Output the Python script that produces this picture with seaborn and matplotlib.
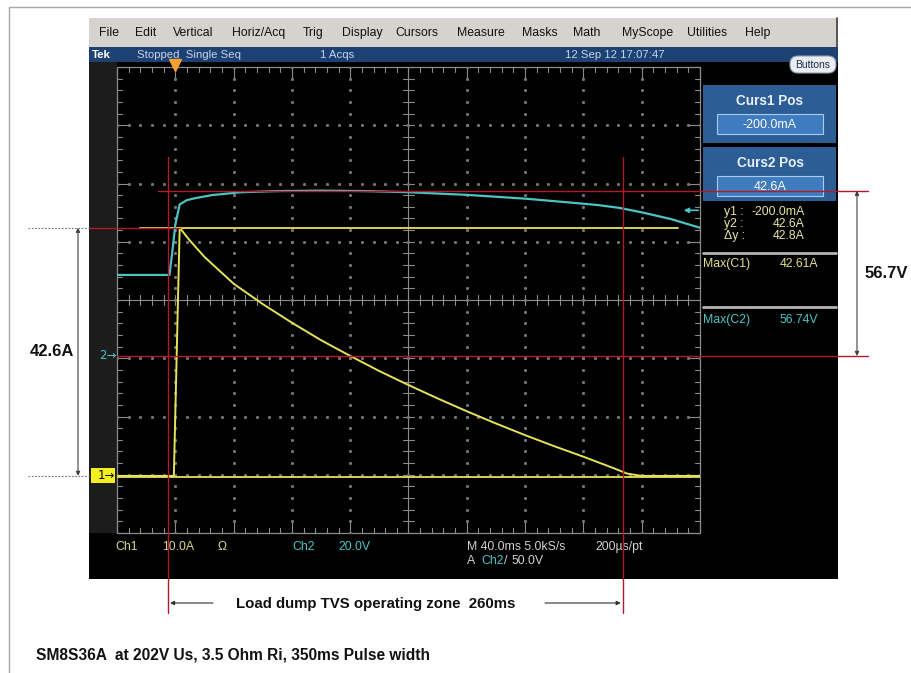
import numpy as np
import matplotlib
matplotlib.use("Agg")
import matplotlib.pyplot as plt
import seaborn as sns
from matplotlib import font_manager
from matplotlib.patches import Rectangle, FancyBboxPatch
from matplotlib.transforms import blended_transform_factory as blend

# ---------------- acquired waveforms ----------------
# Ch1: TVS current (A) vs time after trigger (ms)
t_ch1 = [-40, -1, 3, 10, 20, 40, 60, 80, 100, 120, 140, 160, 180, 200, 220,
         240, 260, 280, 300, 310, 320, 360]
i_ch1 = [0.0, 0.0, 42.6, 40.4, 37.6, 33.0, 29.5, 26.3, 23.3, 20.6, 18.0, 15.6,
         13.3, 11.1, 9.0, 7.0, 5.1, 3.3, 1.4, 0.4, 0.0, 0.0]

# Ch2: clamped voltage (V) vs time after trigger (ms)
t_ch2 = [-40, -4, -2, 0, 3, 8, 14, 25, 45, 70, 100, 130, 160, 200, 240,
         270, 290, 305, 320, 340, 360]
v_ch2 = [27.8, 27.8, 36.0, 45.0, 52.0, 53.5, 54.2, 55.2, 56.2, 56.6, 56.74,
         56.6, 56.2, 55.3, 54.0, 52.7, 51.8, 50.8, 49.3, 47.0, 44.0]

# ---------------- scope settings / readouts ----------------
ch1_scale = 10.0      # A/div
ch2_scale = 20.0      # V/div
time_scale = 40.0     # ms/div
trig_pos_div = 1.0    # trigger point, divisions from left edge
ch1_pos_div = -3.02   # Ch1 ground marker, divisions from centre
ch2_pos_div = -0.96   # Ch2 ground marker
trig_level = 50.0     # V on Ch2
curs1 = -0.2          # A
curs2 = 42.6          # A
max_c1 = 42.61
max_c2 = 56.74
v_clamp = 56.7
zone_start, zone_end = -5.0, 307.0   # ms

menu_items = ["File", "Edit", "Vertical", "Horiz/Acq", "Trig", "Display",
              "Cursors", "Measure", "Masks", "Math", "MyScope", "Utilities",
              "Help"]
menu_x = [99, 135, 173, 232, 303, 342, 395, 457, 522, 573, 622, 687, 745]

title_text = "SM8S36A  at 202V Us, 3.5 Ohm Ri, 350ms Pulse width"
zone_text = "Load dump TVS operating zone  260ms"

# ---------------- styling ----------------
sns.set_theme(style="white")
names = {f.name for f in font_manager.fontManager.ttflist}
NARROW = "Liberation Sans Narrow" if "Liberation Sans Narrow" in names else "Liberation Sans"
plt.rcParams["font.family"] = ["Liberation Sans", "DejaVu Sans"]

YEL = "#e6e25a"
CYAN = "#4cc4c4"
RED = "#b4182a"
W, H = 912, 673

fig = plt.figure(figsize=(W / 100, H / 100), dpi=100)
fig.patch.set_facecolor("white")

bg = fig.add_axes([0, 0, 1, 1])
bg.set_xlim(0, W)
bg.set_ylim(H, 0)
bg.axis("off")
bg.set_zorder(0)


def box(ax, x0, y0, x1, y1, fc, ec="none", lw=0.0, z=1):
    ax.add_patch(Rectangle((x0, y0), x1 - x0, y1 - y0, fc=fc, ec=ec, lw=lw, zorder=z))


# page frame
bg.plot([9, 9], [7, H], color="#a8a8a8", lw=1.0)
bg.plot([9, W], [7, 7], color="#a8a8a8", lw=1.0)

# instrument window
box(bg, 89, 18, 838, 579, "black")
box(bg, 89, 18, 838, 47, "#d6d3ce")
box(bg, 89, 47, 838, 62, "#1d4173")
box(bg, 89, 62, 117, 533, "#1c1c1c")
bg.plot([837, 837], [18, 47], color="#404040", lw=1.2, zorder=2)

for lab, x in zip(menu_items, menu_x):
    bg.text(x, 33, lab, fontsize=8.8, va="center", ha="left", color="#101010",
            family="Liberation Sans", zorder=3)

bg.text(92, 55, "Tek", fontsize=8.2, va="center", color="white", weight="bold", zorder=3)
bg.text(137, 55, "Stopped  Single Seq", fontsize=8.2, va="center", color="#c3d5ee", zorder=3)
bg.text(320, 55, "1 Acqs", fontsize=8.2, va="center", color="#c3d5ee", zorder=3)
bg.text(565, 55, "12 Sep 12 17:07:47", fontsize=8.2, va="center", color="#c3d5ee", zorder=3)

bg.add_patch(FancyBboxPatch((790, 56), 46, 17, boxstyle="round,pad=0,rounding_size=8",
                            fc="#e9edf2", ec="#8fa0b8", lw=0.8, zorder=3))
bg.text(813, 64.5, "Buttons", fontsize=7.5, ha="center", va="center", color="#1c2c48", zorder=4)

# cursor readout panels
PANEL = "#2c5d94"
INNER = "#3f7cbf"
for (y0, y1, ttl, val) in [(85, 143, "Curs1 Pos", f"{curs1 * 1000:.1f}mA"),
                           (147, 201, "Curs2 Pos", f"{curs2:.1f}A")]:
    box(bg, 703, y0, 836, y1, PANEL, z=2)
    bg.text(770, y0 + 16, ttl, fontsize=9.8, weight="bold", ha="center", va="center",
            color="#e8f0ff", zorder=4)
    box(bg, 717, y0 + 29, 823, y0 + 49, INNER, ec="#a8cdf0", lw=0.8, z=3)
    bg.text(770, y0 + 39.5, val, fontsize=9, ha="center", va="center",
            color="white", family=NARROW, zorder=4)

RY = "#e6e6a6"
rows = [("y1 :", f"{curs1 * 1000:.1f}mA"), ("y2 :", f"{curs2:.1f}A"),
        ("\u0394y :", f"{curs2 - curs1:.1f}A")]
for k, (lab, val) in enumerate(rows):
    yy = 212 + 12 * k
    bg.text(724, yy, lab, fontsize=8.8, color=RY, va="center", family=NARROW, zorder=4)
    bg.text(805, yy, val, fontsize=8.8, color=RY, va="center", ha="right", family=NARROW, zorder=4)

bg.plot([703, 836], [253, 253], color="#b4b4b4", lw=2.0, zorder=3)
bg.text(703, 264, "Max(C1)", fontsize=8.8, color="#e2e290", va="center", family=NARROW, zorder=4)
bg.text(818, 264, f"{max_c1:.2f}A", fontsize=8.8, color="#e2e290", va="center", ha="right",
        family=NARROW, zorder=4)
bg.plot([703, 836], [307, 307], color="#b4b4b4", lw=2.0, zorder=3)
bg.text(703, 320, "Max(C2)", fontsize=8.8, color=CYAN, va="center", family=NARROW, zorder=4)
bg.text(818, 320, f"{max_c2:.2f}V", fontsize=8.8, color=CYAN, va="center", ha="right",
        family=NARROW, zorder=4)

# bottom settings bar
BY = "#d8d890"
GR = "#d2d2d2"
r1, r2 = 547, 561
FS = 8.8
bg.text(115, r1, "Ch1", fontsize=FS, color=BY, va="center", family=NARROW, zorder=4)
bg.text(162, r1, f"{ch1_scale:.1f}A", fontsize=FS, color=BY, va="center", family=NARROW, zorder=4)
bg.text(218, r1, "\u03a9", fontsize=FS, color=BY, va="center", family=NARROW, zorder=4)
bg.text(292, r1, "Ch2", fontsize=FS, color=CYAN, va="center", family=NARROW, zorder=4)
bg.text(338, r1, f"{ch2_scale:.1f}V", fontsize=FS, color=CYAN, va="center", family=NARROW, zorder=4)
bg.text(467, r1, f"M {time_scale:.1f}ms 5.0kS/s", fontsize=FS, color=GR, va="center",
        family=NARROW, zorder=4)
bg.text(595, r1, "200\u00b5s/pt", fontsize=FS, color=GR, va="center", family=NARROW, zorder=4)
bg.text(467, r2, "A", fontsize=FS, color=GR, va="center", family=NARROW, zorder=4)
bg.text(481, r2, "Ch2", fontsize=FS, color=CYAN, va="center", family=NARROW, zorder=4)
bg.text(504, r2, "/", fontsize=FS, color=GR, va="center", family=NARROW, zorder=4)
bg.text(512, r2, f"{trig_level:.1f}V", fontsize=FS, color=GR, va="center", family=NARROW, zorder=4)

# ---------------- graticule ----------------
gx0, gx1, gy0, gy1 = 117, 700, 67, 533
pos = [gx0 / W, (H - gy1) / H, (gx1 - gx0) / W, (gy1 - gy0) / H]
grat = fig.add_axes(pos)
grat.set_xlim(0, 10)
grat.set_ylim(-4, 4)
grat.axis("off")
grat.set_zorder(1)
grat.patch.set_alpha(0)

GC = "#8c8c8c"
grat.add_patch(Rectangle((0, -4), 10, 8, fill=False, ec=GC, lw=0.9, clip_on=False))
sub = np.round(np.arange(0, 10.001, 0.2), 3)
suby = np.round(np.arange(-4, 4.001, 0.2), 3)
for x in sub:
    L = 0.2 if abs(x - round(x)) < 1e-6 else 0.09
    grat.plot([x, x], [4, 4 - L], color=GC, lw=0.8, clip_on=False)
    grat.plot([x, x], [-4, -4 + L], color=GC, lw=0.8, clip_on=False)
    grat.plot([x, x], [-0.09, 0.09], color=GC, lw=0.8)
for y in suby:
    L = 0.2 if abs(y - round(y)) < 1e-6 else 0.09
    grat.plot([0, L], [y, y], color=GC, lw=0.8, clip_on=False)
    grat.plot([10, 10 - L], [y, y], color=GC, lw=0.8, clip_on=False)
    grat.plot([4.91, 5.09], [y, y], color=GC, lw=0.8)
grat.plot([5, 5], [-4, 4], color=GC, lw=0.8)
grat.plot([0, 10], [0, 0], color=GC, lw=0.8)
for x in range(1, 10):
    if x != 5:
        grat.plot(np.full(suby.size, x), suby, ls="none", marker="s", ms=1.1, color="#767676")
for y in range(-3, 4):
    if y != 0:
        grat.plot(sub, np.full(sub.size, y), ls="none", marker="s", ms=1.1, color="#767676")

# ---------------- traces ----------------
ax1 = fig.add_axes(pos)
ax1.set_zorder(2)
ax1.patch.set_alpha(0)
t_left = -trig_pos_div * time_scale
ax1.set_xlim(t_left, t_left + 10 * time_scale)
ax1.set_ylim((-4 - ch1_pos_div) * ch1_scale, (4 - ch1_pos_div) * ch1_scale)
ax2 = ax1.twinx()
ax2.set_zorder(3)
ax2.patch.set_alpha(0)
ax2.set_ylim((-4 - ch2_pos_div) * ch2_scale, (4 - ch2_pos_div) * ch2_scale)

ax1.axhline(curs1, color=YEL, lw=1.3)
ax1.axhline(curs2, xmin=0.04, xmax=0.962, color=YEL, lw=1.3)
sns.lineplot(x=t_ch1, y=i_ch1, ax=ax1, color=YEL, lw=1.4, estimator=None, sort=False)
sns.lineplot(x=t_ch2, y=v_ch2, ax=ax2, color=CYAN, lw=1.6, estimator=None, sort=False)
for a in (ax1, ax2):
    a.axis("off")

# trigger position and trigger level markers
ax1.plot([0], [1.005], transform=blend(ax1.transData, ax1.transAxes), marker="v",
         color="#f5a030", ms=8, clip_on=False)
ax2.annotate("", xy=(0.972, trig_level), xytext=(0.997, trig_level),
             xycoords=blend(ax2.transAxes, ax2.transData),
             textcoords=blend(ax2.transAxes, ax2.transData),
             arrowprops=dict(arrowstyle="-|>", color=CYAN, lw=1.2, mutation_scale=7,
                             shrinkA=0, shrinkB=0))


def py(ax, v):
    return H - ax.transData.transform((0, v))[1]


def px(ax, t):
    return ax.transData.transform((t, 0))[0]


# ground markers on the left strip
y_c1 = py(ax1, 0.0)
y_c2 = py(ax2, 0.0)
box(bg, 91, y_c1 - 7.5, 115, y_c1 + 7.5, "#f2ee20", z=4)
bg.text(98, y_c1, "1\u2192", fontsize=8.5, va="center", color="black",
        family="DejaVu Sans", zorder=5)
bg.text(99, y_c2, "2\u2192", fontsize=8.5, va="center", color=CYAN,
        family="DejaVu Sans", zorder=5)

# ---------------- annotations ----------------
ov = fig.add_axes([0, 0, 1, 1])
ov.set_xlim(0, W)
ov.set_ylim(H, 0)
ov.axis("off")
ov.set_zorder(10)
ov.patch.set_alpha(0)

y42 = py(ax1, curs2)
ov.plot([90, 180], [y42, y42], color=RED, lw=1.0)
for yy in (y42, y_c1):
    ov.plot([28, 90], [yy, yy], color="#707070", lw=0.8, ls=(0, (1.5, 1.5)))
ov.annotate("", xy=(78, y42), xytext=(78, y_c1),
            arrowprops=dict(arrowstyle="<|-|>", color="#404040", lw=0.8,
                            mutation_scale=6, shrinkA=0, shrinkB=0))
ov.text(30, (y42 + y_c1) / 2, f"{curs2:.1f}A", fontsize=12, weight="bold",
        va="center", ha="left", color="#111111")

yv = py(ax2, v_clamp)
ov.plot([158, 868], [yv, yv], color=RED, lw=1.0)
ov.plot([117, 868], [y_c2, y_c2], color=RED, lw=1.0)
ov.annotate("", xy=(857, yv), xytext=(857, y_c2),
            arrowprops=dict(arrowstyle="<|-|>", color="#404040", lw=0.8,
                            mutation_scale=6, shrinkA=0, shrinkB=0))
ov.text(865, (yv + y_c2) / 2, f"{v_clamp:.1f}V", fontsize=12, weight="bold",
        va="center", ha="left", color="#111111")

xs, xe = px(ax1, zone_start), px(ax1, zone_end)
for xx in (xs, xe):
    ov.plot([xx, xx], [157, 613], color=RED, lw=1.0)
ov.annotate("", xy=(xs + 2, 603), xytext=(213, 603),
            arrowprops=dict(arrowstyle="-|>", color="#303030", lw=0.8,
                            mutation_scale=6, shrinkA=0, shrinkB=0))
ov.annotate("", xy=(xe - 2, 603), xytext=(545, 603),
            arrowprops=dict(arrowstyle="-|>", color="#303030", lw=0.8,
                            mutation_scale=6, shrinkA=0, shrinkB=0))
ov.text(236, 604, zone_text, fontsize=10.8, weight="bold", va="center", ha="left",
        color="#111111")
ov.text(36, 655, title_text, fontsize=11.2, weight="bold", va="center", ha="left",
        color="#111111")

fig.savefig("out.png", dpi=100, facecolor="white")
